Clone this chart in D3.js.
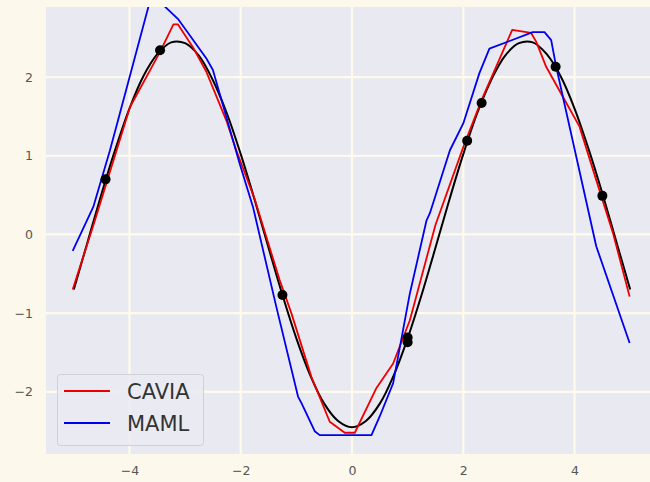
<!DOCTYPE html>
<html><head><meta charset="utf-8">
<script src="https://cdn.jsdelivr.net/npm/d3@7/dist/d3.min.js"></script>
<style>html,body{margin:0;padding:0;background:#fcf8eb;}svg{display:block;}</style>
</head><body>
<svg id="chart" width="650" height="482"></svg>
<script>
// Ground truth (black curve)
const truthX = [-5,-4.75,-4.5,-4.25,-4,-3.75,-3.5,-3.25,-3,-2.75,-2.5,-2.25,-2,-1.75,-1.5,-1.25,-1,-0.75,-0.5,-0.25,0,0.25,0.5,0.75,1,1.25,1.5,1.75,2,2.25,2.5,2.75,3,3.25,3.5,3.75,4,4.25,4.5,4.75,5];
const truthY = [-0.70,-0.09,0.52,1.09,1.60,2.01,2.29,2.44,2.43,2.27,1.96,1.54,1.02,0.44,-0.17,-0.77,-1.32,-1.79,-2.15,-2.37,-2.45,-2.37,-2.15,-1.79,-1.32,-0.77,-0.17,0.44,1.02,1.54,1.96,2.27,2.43,2.44,2.29,2.01,1.60,1.09,0.52,-0.09,-0.70];
// Sample points (black dots)
const pointsX = [-4.43,-3.45,-1.25,1.0,1.0,2.07,2.33,3.66,4.50];
const pointsY = [0.70,2.34,-0.77,-1.31,-1.37,1.19,1.67,2.13,0.49];
// CAVIA (red)
const caviaX = [-5.02,-4.62,-3.99,-3.45,-3.21,-3.13,-2.86,-2.62,-2.26,-2.08,-1.75,-1.30,-1.09,-0.73,-0.40,-0.13,0.05,0.44,0.74,1.04,1.5,2.0,2.33,2.59,2.88,3.22,3.31,3.49,3.79,4.09,4.39,4.69,4.99];
const caviaY = [-0.70,0.18,1.62,2.32,2.67,2.67,2.38,2.07,1.45,1.07,0.45,-0.58,-1.0,-1.81,-2.38,-2.52,-2.52,-1.95,-1.64,-1.09,0.12,1.11,1.71,2.13,2.60,2.56,2.45,2.13,1.75,1.37,0.69,0.02,-0.79];
// MAML (blue)
const mamlX = [-5.02,-4.65,-4.35,-4.05,-3.6,-3.37,-3.13,-2.62,-2.50,-2.02,-1.78,-1.36,-0.97,-0.91,-0.67,-0.58,0.35,0.50,0.74,1.04,1.34,1.40,1.76,2.0,2.29,2.47,3.25,3.46,3.58,3.67,3.98,4.39,4.99];
const mamlY = [-0.21,0.35,1.07,1.86,3.05,2.90,2.74,2.24,2.09,0.90,0.35,-0.92,-2.06,-2.14,-2.50,-2.55,-2.55,-2.31,-1.89,-0.75,0.18,0.27,1.07,1.41,2.05,2.36,2.57,2.57,2.47,2.13,1.15,-0.15,-1.38];
const xTicks = [-4,-2,0,2,4];
const yTicks = [-2,-1,0,1,2];
const legendLabels = ["CAVIA","MAML"];

const svg = d3.select("#chart");
const L = 46, R = 658, T = 7, B = 454;
const x = d3.scaleLinear().domain([-5.5,5.5]).range([L,R]);
const y = d3.scaleLinear().domain([-2.79,2.89]).range([B,T]);

svg.append("rect").attr("x",0).attr("y",0).attr("width",650).attr("height",482).attr("fill","#fcf8eb");
svg.append("defs").append("clipPath").attr("id","clip")
  .append("rect").attr("x",L).attr("y",T).attr("width",R-L).attr("height",B-T);
svg.append("rect").attr("x",L).attr("y",T).attr("width",R-L).attr("height",B-T).attr("fill","#e9e9f1");

// grid
const g = svg.append("g").attr("clip-path","url(#clip)");
g.selectAll(".gx").data(xTicks).enter().append("line")
  .attr("x1",d=>x(d)).attr("x2",d=>x(d)).attr("y1",T).attr("y2",B)
  .attr("stroke","#fffbec").attr("stroke-width",2.2);
g.selectAll(".gy").data(yTicks).enter().append("line")
  .attr("y1",d=>y(d)).attr("y2",d=>y(d)).attr("x1",L).attr("x2",R)
  .attr("stroke","#fffbec").attr("stroke-width",2.2);

// axes labels via d3 axes
const fmt = d => d < 0 ? "\u2212" + Math.abs(d) : String(d);
const xa = svg.append("g").attr("transform",`translate(0,${B})`)
  .call(d3.axisBottom(x).tickValues(xTicks).tickFormat(fmt).tickSize(0).tickPadding(12));
const ya = svg.append("g").attr("transform",`translate(${L},0)`)
  .call(d3.axisLeft(y).tickValues(yTicks).tickFormat(fmt).tickSize(0).tickPadding(13));
[xa,ya].forEach(a=>{
  a.select(".domain").remove();
  a.selectAll("text").attr("font-family","DejaVu Sans").attr("font-size",12.5).attr("fill","#555");
});

const mk = (xs,ys)=>xs.map((v,i)=>[v,ys[i]]);
const lineLin = d3.line().x(d=>x(d[0])).y(d=>y(d[1]));
const lineSmooth = d3.line().x(d=>x(d[0])).y(d=>y(d[1])).curve(d3.curveCatmullRom);

g.append("path").datum(mk(truthX,truthY)).attr("d",lineSmooth)
  .attr("fill","none").attr("stroke","#000").attr("stroke-width",2);
g.append("path").datum(mk(caviaX,caviaY)).attr("d",lineLin)
  .attr("fill","none").attr("stroke","#ee0000").attr("stroke-width",1.8).attr("stroke-linejoin","round");
g.append("path").datum(mk(mamlX,mamlY)).attr("d",lineLin)
  .attr("fill","none").attr("stroke","#0000ee").attr("stroke-width",1.8).attr("stroke-linejoin","round");
g.selectAll(".pt").data(mk(pointsX,pointsY)).enter().append("circle")
  .attr("cx",d=>x(d[0])).attr("cy",d=>y(d[1])).attr("r",5).attr("fill","#000");

// legend
const lg = svg.append("g");
lg.append("rect").attr("x",57.5).attr("y",374.5).attr("width",146).attr("height",71).attr("rx",3)
  .attr("fill","#eaeaf2").attr("fill-opacity",0.85).attr("stroke","#d0d0d6").attr("stroke-width",1);
const lcol = ["#ee0000","#0000ee"];
legendLabels.forEach((t,i)=>{
  const yy = 391 + i*32;
  lg.append("line").attr("x1",64).attr("x2",110).attr("y1",yy).attr("y2",yy).attr("stroke",lcol[i]).attr("stroke-width",2);
  lg.append("text").attr("x",127).attr("y",yy).attr("dy","0.36em").text(t)
    .attr("font-family","DejaVu Sans").attr("font-size",21).attr("fill","#333");
});
</script>
</body></html>
